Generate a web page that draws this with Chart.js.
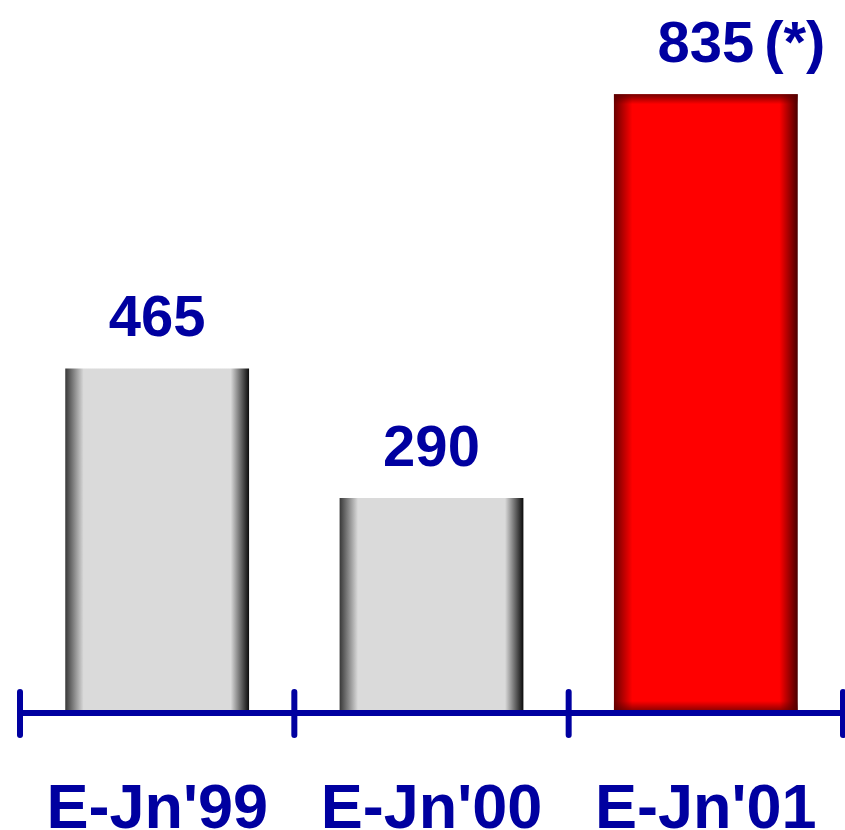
<!DOCTYPE html>
<html>
<head>
<meta charset="utf-8">
<script src="https://cdn.jsdelivr.net/npm/chart.js@4.4.1/dist/chart.umd.min.js"></script>
<style>
  html, body { margin: 0; padding: 0; background: #ffffff; }
  #wrap { width: 845px; height: 830px; position: relative; }
</style>
</head>
<body>
<div id="wrap"><canvas id="c"></canvas></div>
<script>
// ---- data ----
const categories = ["E-Jn'99", "E-Jn'00", "E-Jn'01"];
const values = [465, 290, 835];
const valueLabels = ["465", "290", "835"];
const labelSuffixes = ["", "", "(*)"];
const barStyles = ["gray", "gray", "red"];

const BLUE = '#0000a0';
const FONT = '"Liberation Sans", Arial, sans-serif';

function barGradient(ctx) {
  const chart = ctx.chart;
  const area = chart.chartArea;
  if (!area || !chart.scales.x) return '#dcdcdc';
  const xs = chart.scales.x;
  const i = ctx.dataIndex;
  const cw = (xs.right - xs.left) / categories.length;
  const w = cw * 0.67;
  const cx = xs.getPixelForValue(i);
  const g = chart.ctx.createLinearGradient(cx - w / 2, 0, cx + w / 2, 0);
  if (barStyles[i] === 'red') {
    g.addColorStop(0, '#6a0000');
    g.addColorStop(0.1, '#ff0000');
    g.addColorStop(0.9, '#ff0000');
    g.addColorStop(1, '#4a0000');
  } else {
    g.addColorStop(0, '#383838');
    g.addColorStop(0.1, '#dadada');
    g.addColorStop(0.9, '#dadada');
    g.addColorStop(1, '#0a0a0a');
  }
  return g;
}

const overlayPlugin = {
  id: 'overlay',
  afterDatasetsDraw(chart) {
    const c = chart.ctx;
    const meta = chart.getDatasetMeta(0);
    // top/bottom shading of red bar
    meta.data.forEach((el, i) => {
      if (barStyles[i] !== 'red') return;
      const l = el.x - el.width / 2, r = el.x + el.width / 2;
      let g = c.createLinearGradient(0, el.y, 0, el.y + 10);
      g.addColorStop(0, 'rgba(90,0,0,0.85)');
      g.addColorStop(1, 'rgba(90,0,0,0)');
      c.fillStyle = g;
      c.fillRect(l, el.y, r - l, 10);
      g = c.createLinearGradient(0, el.base - 12, 0, el.base);
      g.addColorStop(0, 'rgba(90,0,0,0)');
      g.addColorStop(1, 'rgba(90,0,0,0.85)');
      c.fillStyle = g;
      c.fillRect(l, el.base - 12, r - l, 12);
    });
    // axis line & ticks
    const xs = chart.scales.x;
    const y0 = chart.scales.y.getPixelForValue(0);
    c.save();
    c.strokeStyle = BLUE;
    c.lineCap = 'round';
    c.lineWidth = 6;
    const xl = xs.getPixelForValue(-0.5), xr = xs.getPixelForValue(categories.length - 0.5);
    c.beginPath();
    c.moveTo(xl, y0); c.lineTo(xr, y0);
    c.stroke();
    for (let k = 0; k <= categories.length; k++) {
      const x = xs.getPixelForValue(k - 0.5);
      c.beginPath();
      c.moveTo(x, y0 - 21); c.lineTo(x, y0 + 22);
      c.stroke();
    }
    // value labels
    c.fillStyle = BLUE;
    c.font = 'bold 58px ' + FONT;
    c.textBaseline = 'alphabetic';
    meta.data.forEach((el, i) => {
      const t = valueLabels[i];
      const tw = c.measureText(t).width;
      const base = el.y - 32;
      c.textAlign = 'left';
      c.fillText(t, el.x - tw / 2, base);
      if (labelSuffixes[i]) c.fillText(labelSuffixes[i], el.x + tw / 2 + 10, base);
    });
    // category labels
    c.font = 'bold 63px ' + FONT;
    c.textAlign = 'center';
    categories.forEach((lab, i) => {
      c.fillText(lab, xs.getPixelForValue(i), y0 + 115);
    });
    c.restore();
  }
};

new Chart(document.getElementById('c'), {
  type: 'bar',
  data: {
    labels: categories,
    datasets: [{
      data: values,
      backgroundColor: barGradient,
      borderWidth: 0,
      barPercentage: 0.67,
      categoryPercentage: 1.0
    }]
  },
  options: {
    responsive: true,
    maintainAspectRatio: false,
    animation: false,
    layout: { padding: { left: 20, right: 2, top: 46, bottom: 109 } },
    plugins: { legend: { display: false }, tooltip: { enabled: false } },
    scales: {
      x: {
        grid: { display: false },
        border: { display: false },
        ticks: { display: false }
      },
      y: {
        display: false,
        min: 0,
        max: 900
      }
    }
  },
  plugins: [overlayPlugin]
});
</script>
</body>
</html>
